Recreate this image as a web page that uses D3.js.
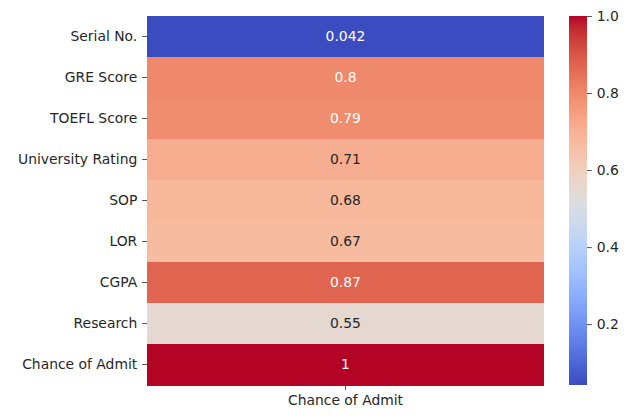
<!DOCTYPE html>
<html><head><meta charset="utf-8">
<script src="https://cdn.jsdelivr.net/npm/d3@7"></script>
<style>body{margin:0;background:#fff;}svg{display:block;font-family:"DejaVu Sans",sans-serif;}</style>
</head><body>
<svg id="c" width="639" height="420"></svg>
<script>
const rows = ["Serial No.","GRE Score","TOEFL Score","University Rating","SOP","LOR","CGPA","Research","Chance of Admit"];
const cols = ["Chance of Admit"];
const values = [0.042,0.8,0.79,0.71,0.68,0.67,0.87,0.55,1];
const labels = ["0.042","0.8","0.79","0.71","0.68","0.67","0.87","0.55","1"];
const cbTicks = [0.2,0.4,0.6,0.8,1.0];

const cw = [[59,76,192],[68,90,204],[77,104,215],[87,117,225],[98,130,234],[108,142,241],[119,154,247],[130,165,251],[141,176,254],[152,185,255],[163,194,255],[174,201,253],[184,208,249],[194,213,244],[204,217,238],[213,219,230],[221,221,221],[229,216,209],[236,211,197],[241,204,185],[245,196,173],[247,187,160],[247,177,148],[247,166,135],[244,154,123],[241,141,111],[236,127,99],[229,112,88],[222,96,77],[213,80,66],[203,62,56],[192,40,47],[180,4,38]];
function coolwarm(t){
  t=Math.max(0,Math.min(1,t));
  const p=t*(cw.length-1), i=Math.min(Math.floor(p),cw.length-2), f=p-i;
  const a=cw[i],b=cw[i+1];
  return [0,1,2].map(k=>a[k]+(b[k]-a[k])*f);
}
const rgb=c=>`rgb(${c.map(Math.round).join(",")})`;
const vmin=d3.min(values), vmax=d3.max(values);
const norm=v=>(v-vmin)/(vmax-vmin);
const FS="13.9px", TL=4.86, TP=4.86;

const svg=d3.select("#c");
const L=147,R=544,T=16,B=385;
const x=d3.scaleBand().domain(cols).range([L,R]);
const y=d3.scaleBand().domain(rows).range([T,B]);

const g=svg.append("g");
rows.forEach((r,i)=>{
  const c=coolwarm(norm(values[i]));
  g.append("rect").attr("x",x(cols[0])).attr("y",y(r)).attr("width",x.bandwidth()).attr("height",y.bandwidth()+0.5).attr("fill",rgb(c)).attr("shape-rendering","crispEdges");
  const lum=0.2126*Math.pow(c[0]/255,2.2)+0.7152*Math.pow(c[1]/255,2.2)+0.0722*Math.pow(c[2]/255,2.2);
  g.append("text").attr("x",x(cols[0])+x.bandwidth()/2).attr("y",y(r)+y.bandwidth()/2).attr("dy","0.35em")
   .attr("text-anchor","middle").attr("font-size",FS).attr("fill",lum>0.408?"#262626":"#ffffff").text(labels[i]);
});

const yAxis=d3.axisLeft(y).tickSize(TL).tickPadding(TP);
const ya=svg.append("g").attr("transform",`translate(${L},0)`).call(yAxis);
const xAxis=d3.axisBottom(x).tickSize(TL).tickPadding(TP);
const xa=svg.append("g").attr("transform",`translate(0,${B})`).call(xAxis);
[ya,xa].forEach(a=>{a.select(".domain").remove();a.selectAll("text").attr("font-size",FS).attr("fill","#262626").attr("font-family","DejaVu Sans");a.selectAll("line").attr("stroke","#262626").attr("stroke-width",0.8);});

// colorbar
const cbL=569,cbR=587;
const cy=d3.scaleLinear().domain([vmin,vmax]).range([B,T]);
const defs=svg.append("defs");
const grad=defs.append("linearGradient").attr("id","cbg").attr("x1",0).attr("y1",1).attr("x2",0).attr("y2",0);
d3.range(0,65).forEach(k=>{const t=k/64;grad.append("stop").attr("offset",t).attr("stop-color",rgb(coolwarm(t)));});
svg.append("rect").attr("x",cbL).attr("y",T).attr("width",cbR-cbL).attr("height",B-T).attr("fill","url(#cbg)");
const cAxis=d3.axisRight(cy).tickValues(cbTicks).tickFormat(d3.format(".1f")).tickSize(TL).tickPadding(TP);
const ca=svg.append("g").attr("transform",`translate(${cbR},0)`).call(cAxis);
ca.select(".domain").remove();
ca.selectAll("text").attr("font-size",FS).attr("fill","#262626").attr("font-family","DejaVu Sans");
ca.selectAll("line").attr("stroke","#262626").attr("stroke-width",0.8);
</script>
</body></html>
